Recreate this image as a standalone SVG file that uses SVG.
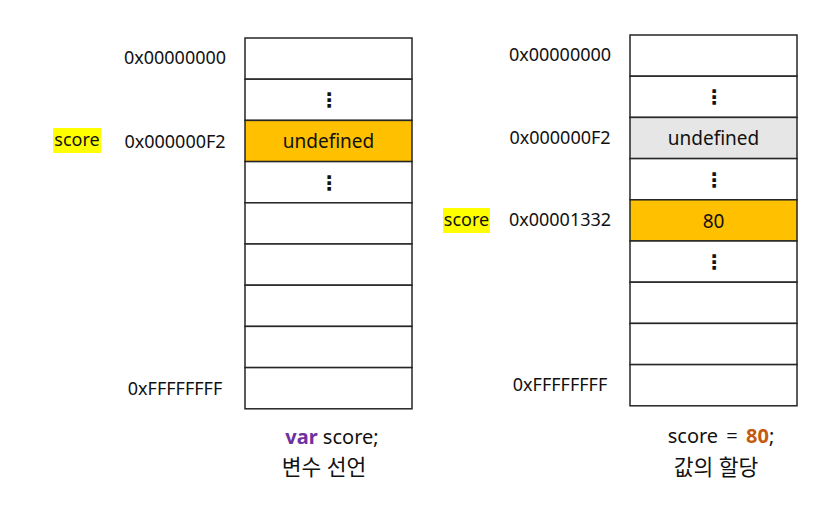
<svg xmlns="http://www.w3.org/2000/svg" width="831" height="513" viewBox="0 0 831 513">
<style>
.cell{fill:#ffffff;stroke:#262626;stroke-width:1.5}
.hl{fill:#FFC000;stroke:#262626;stroke-width:1.5}
.gray{fill:#E7E6E6;stroke:#262626;stroke-width:1.5}
text{font-family:"Noto Sans","Noto Sans CJK KR",sans-serif;font-size:18px;fill:#111}
.c{text-anchor:middle}
.v{font-size:19px}
.cap{font-size:20px}
.ko{font-size:21.5px}
.dots{font-family:"DejaVu Sans",sans-serif;font-size:20px;font-weight:bold;text-anchor:middle}
.tag{fill:#FFFF00}
</style>
<rect width="831" height="513" fill="#ffffff"/>
<g id="connectors"></g>
<g id="left-memory">
<g id="l-row1"><rect class="cell" x="245" y="38" width="167" height="41.2"/></g>
<g id="l-row2"><rect class="cell" x="245" y="79.2" width="167" height="41.2"/><text class="dots" x="329" y="107">⋮</text></g>
<g id="l-row3"><rect class="hl" x="245" y="120.4" width="167" height="41.2"/><text class="c v" x="328.5" y="148">undefined</text></g>
<g id="l-row4"><rect class="cell" x="245" y="161.6" width="167" height="41.2"/><text class="dots" x="329" y="189.5">⋮</text></g>
<g id="l-row5"><rect class="cell" x="245" y="202.8" width="167" height="41.2"/></g>
<g id="l-row6"><rect class="cell" x="245" y="244" width="167" height="41.2"/></g>
<g id="l-row7"><rect class="cell" x="245" y="285.2" width="167" height="41.2"/></g>
<g id="l-row8"><rect class="cell" x="245" y="326.4" width="167" height="41.2"/></g>
<g id="l-row9"><rect class="cell" x="245" y="367.6" width="167" height="41.2"/></g>
</g>
<g id="left-labels">
<text class="c" x="175" y="64">0x00000000</text>
<text class="c" x="175" y="147.5">0x000000F2</text>
<text class="c" x="175" y="394.5">0xFFFFFFFF</text>
<g id="l-score"><rect class="tag" x="53" y="128" width="48" height="25"/><text class="c" x="77" y="146">score</text></g>
</g>
<g id="right-memory">
<g id="r-row1"><rect class="cell" x="630" y="35" width="167" height="41.2"/></g>
<g id="r-row2"><rect class="cell" x="630" y="76.2" width="167" height="41.2"/><text class="dots" x="714" y="104">⋮</text></g>
<g id="r-row3"><rect class="gray" x="630" y="117.4" width="167" height="41.2"/><text class="c v" x="713.5" y="145">undefined</text></g>
<g id="r-row4"><rect class="cell" x="630" y="158.6" width="167" height="41.2"/><text class="dots" x="714" y="186.5">⋮</text></g>
<g id="r-row5"><rect class="hl" x="630" y="199.8" width="167" height="41.2"/><text class="c v" x="713.5" y="227.5">80</text></g>
<g id="r-row6"><rect class="cell" x="630" y="241" width="167" height="41.2"/><text class="dots" x="714" y="269">⋮</text></g>
<g id="r-row7"><rect class="cell" x="630" y="282.2" width="167" height="41.2"/></g>
<g id="r-row8"><rect class="cell" x="630" y="323.4" width="167" height="41.2"/></g>
<g id="r-row9"><rect class="cell" x="630" y="364.6" width="167" height="41.2"/></g>
</g>
<g id="right-labels">
<text class="c" x="560" y="61">0x00000000</text>
<text class="c" x="560" y="144">0x000000F2</text>
<text class="c" x="560" y="226">0x00001332</text>
<text class="c" x="560" y="391">0xFFFFFFFF</text>
<g id="r-score"><rect class="tag" x="443" y="208" width="47" height="25"/><text class="c" x="466.5" y="226">score</text></g>
</g>
<g id="captions">
<text class="c cap" x="332" y="444"><tspan fill="#7030A0" font-weight="bold">var</tspan> score;</text>
<text class="c ko" x="324" y="475">변수 선언</text>
<text class="c cap" x="721" y="443">score <tspan dx="3">=</tspan> <tspan dx="3" fill="#C55A11" font-weight="bold">80</tspan>;</text>
<text class="c ko" x="716" y="475">값의 할당</text>
</g>
</svg>
